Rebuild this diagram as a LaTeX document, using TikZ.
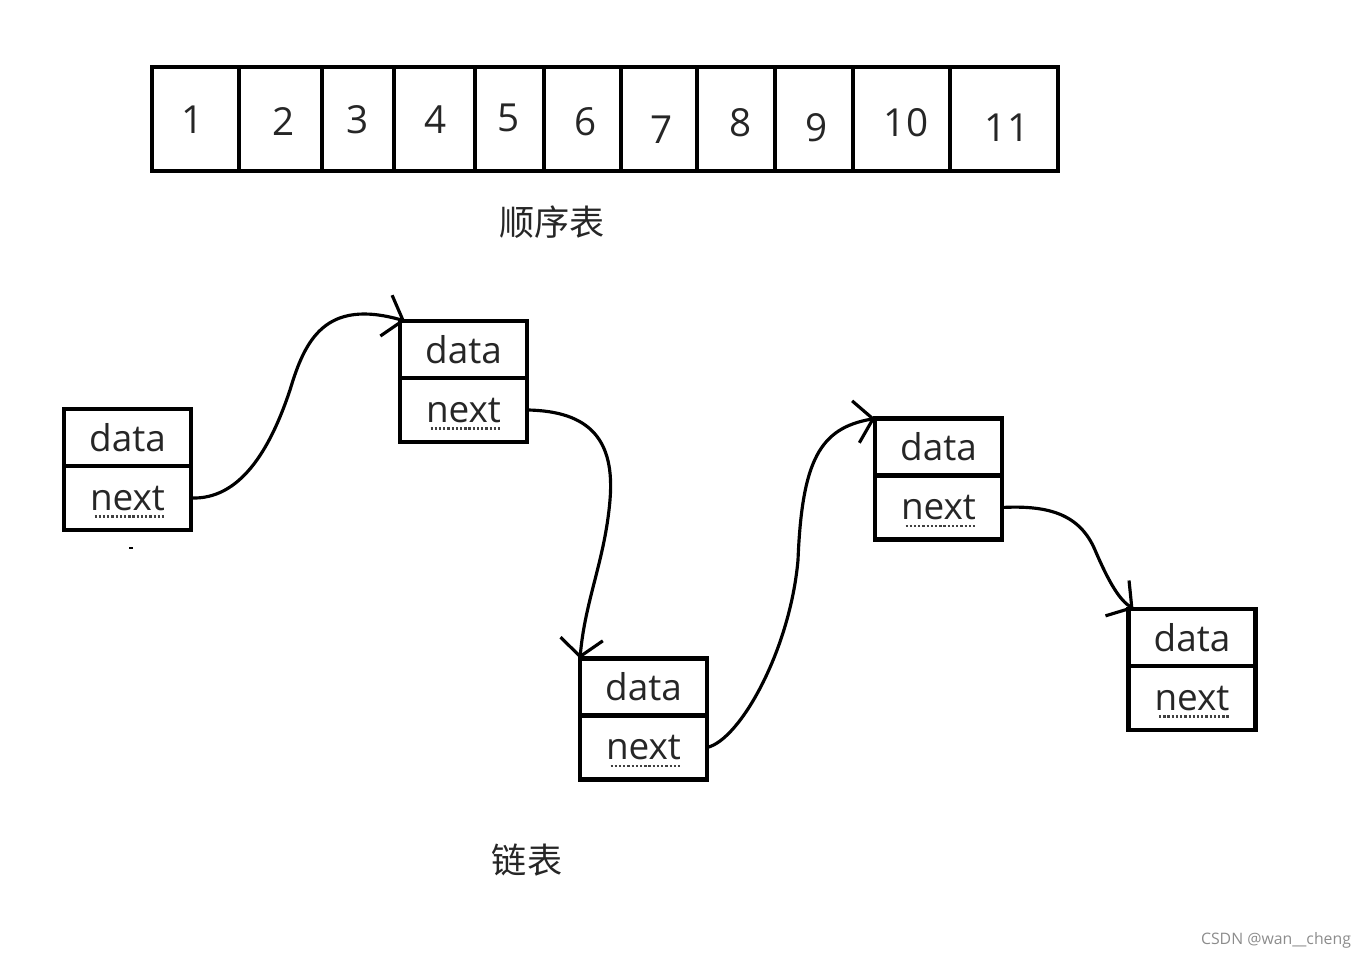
\documentclass[tikz,border=0pt]{standalone}
\usepackage{fontspec}
\setmainfont{Open Sans}
\newfontfamily\cjk{Noto Sans CJK SC}
\usetikzlibrary{positioning,arrows.meta}

\tikzset{
  cell/.style={draw, line width=2.7pt, inner sep=0pt, outer sep=0pt, minimum height=2.08cm},
  num/.style={text=black!85, font=\fontsize{22}{26}\selectfont},
  box/.style={draw, line width=2.7pt, inner sep=0pt, outer sep=0pt, minimum width=2.54cm,
    text=black!85, font=\fontsize{21}{24}\selectfont},
  ptr/.style={box, minimum height=1.28cm, text height=0.5cm, text depth=0pt},
  link/.style={line width=1.8pt, -{Straight Barb[length=3.5mm,width=8.5mm]}},
  spell/.style={line width=1.4pt, dash pattern=on 1.3pt off 1.1pt, black!75},
}

\begin{document}
\begin{tikzpicture}[x=0.02cm, y=-0.02cm]
  \useasboundingbox (0,0) rectangle (1365,959);
  % 顺序表
  \foreach \l/\r [count=\i] in {152/239, 239/322, 322/394, 394/475, 475/544, 544/621,
      621/697, 697/775, 775/853, 853/950, 950/1058}
    \node[cell, minimum width={(\r-\l)*0.02cm}] (c\i) at ({(\l+\r)/2},119) {};
  \foreach \x/\y [count=\i] in {193/120, 284/122, 358/120, 436/120, 509/118, 586/122,
      662/130, 741/123, 817/128, 906/123, 1007/128}
    \node[num] (d\i) at (\x,\y) {\i};
  \node[font=\cjk\fontsize{20}{24}\selectfont, text=black!85] (t1) at (552,222) {顺序表};
  % 链表
  \node[box, minimum height=1.14cm] (n1d) at (127.5,437.5) {data};
  \node[ptr, below=0pt of n1d] (n1n) {next};
  \node[box, minimum height=1.14cm] (n2d) at (463.5,349.5) {data};
  \node[ptr, below=0pt of n2d] (n2n) {next};
  \node[box, minimum height=1.14cm] (n3d) at (643.5,687) {data};
  \node[ptr, below=0pt of n3d] (n3n) {next};
  \node[box, minimum height=1.14cm] (n4d) at (938.5,447) {data};
  \node[ptr, below=0pt of n4d] (n4n) {next};
  \node[box, minimum height=1.14cm] (n5d) at (1192,637.5) {data};
  \node[ptr, below=0pt of n5d] (n5n) {next};
  % 拼写下划线
  \foreach \n in {n1n, n2n, n3n, n4n, n5n}
    \draw[spell] ([xshift=-0.66cm, yshift=-0.37cm]\n.center) -- ([xshift=0.74cm, yshift=-0.37cm]\n.center);
  \draw[line width=1.2pt] (129,548) -- (133,548);
  % 指针
  \draw[link] (n1n.east) .. controls (240,500) and (270,450) .. (290,390)
    .. controls (305,340) and (325,298) .. ([xshift=0.1cm]n2d.north west);
  \draw[link] (n2n.east) .. controls (590,411) and (615,440) .. (610,500)
    .. controls (605,560) and (585,600) .. (n3d.north west);
  \draw[link] (n3n.east) .. controls (740,740) and (790,650) .. (798,560)
    .. controls (802,460) and (820,428) .. (n4d.north west);
  \draw[link] (n4n.east) .. controls (1050,505) and (1080,515) .. (1095,550)
    .. controls (1110,585) and (1120,600) .. ([xshift=0.1cm]n5d.north west);
  \node[font=\cjk\fontsize{20}{24}\selectfont, text=black!85] (t2) at (527,860) {链表};
  % 水印
  \node[text=black!45, font=\fontsize{9}{11}\selectfont] (wm) at (1276,940) {CSDN @wan\_\_cheng};
\end{tikzpicture}
\end{document}
